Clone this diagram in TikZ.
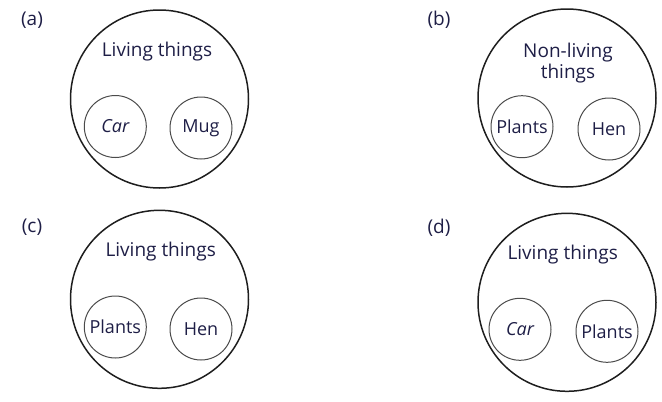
\documentclass[tikz,border=0pt]{standalone}
\usepackage{fontspec}
\setmainfont{Open Sans}
\definecolor{txt}{RGB}{30,30,70}
\definecolor{ln}{RGB}{30,30,30}
\begin{document}
\begin{tikzpicture}[x=1pt,y=-1pt,
  bigc/.style={circle,draw=ln,line width=1.5pt,minimum size=178pt,inner sep=0pt},
  smallc/.style={circle,draw=ln!80,line width=1pt,minimum size=62pt,inner sep=0pt,font=\fontsize{18}{20}\selectfont,text=txt},
  title/.style={font=\fontsize{19}{21}\selectfont,text=txt,align=center},
  lab/.style={font=\fontsize{19}{21}\selectfont,text=txt}]
\useasboundingbox (0,0) rectangle (662,402);
% (a)
\node[lab] (la) at (32,20) {(a)};
\node[bigc] (A) at (159.5,99) {};
\node[title] (ta) at (157,52) {Living things};
\node[smallc] (a1) at (115.3,126.5) {\itshape Car};
\node[smallc] (a2) at (201,128) {Mug};
% (b)
\node[lab] (lb) at (439,20) {(b)};
\node[bigc] (B) at (567,98) {};
\node[title,font=\fontsize{19}{21}\selectfont] (tb) at (568,63) {Non-living\\things};
\node[smallc] (b1) at (522,126.7) {Plants};
\node[smallc] (b2) at (609,129) {Hen};
% (c)
\node[lab] (lc) at (32,227.7) {(c)};
\node[bigc] (C) at (159.5,299.3) {};
\node[title] (tc) at (160.7,252) {Living things};
\node[smallc] (c1) at (115.3,327) {Plants};
\node[smallc] (c2) at (201,329) {Hen};
% (d)
\node[lab] (ld) at (439,227.7) {(d)};
\node[bigc] (D) at (567,302.3) {};
\node[title] (td) at (562.7,255) {Living things};
\node[smallc] (d1) at (520,329.3) {\itshape Car};
\node[smallc] (d2) at (607,331.3) {Plants};
\end{tikzpicture}
\end{document}
